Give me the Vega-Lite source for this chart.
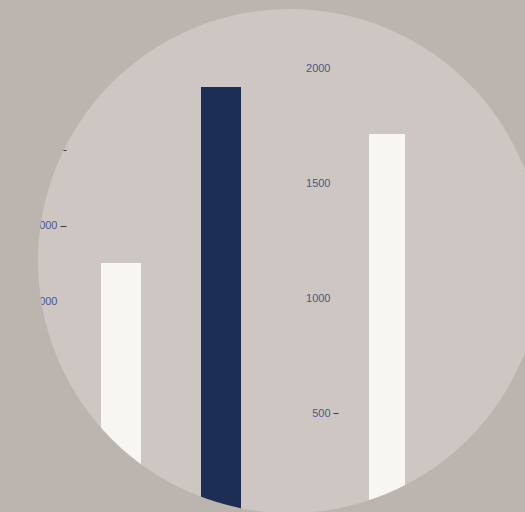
{
  "$schema": "https://vega.github.io/schema/vega-lite/v6.json",
  "width": 448,
  "height": 502,
  "autosize": {"type": "none"},
  "padding": {"left": 66, "top": 10, "right": 11, "bottom": 0},
  "background": "#cdc6c3",
  "config": {
    "view": {"stroke": null},
    "axis": {
      "labelFont": "Liberation Sans",
      "labelFontSize": 11,
      "labelColor": "#4b5886",
      "domain": false,
      "grid": false,
      "tickColor": "#3a3a3a",
      "title": null,
      "format": "d"
    },
    "axisLeft": {"labelColor": "#4b5886"},
    "axisY": {"labelColor": "#4b5886"}
  },
  "datasets": {
    "leftBars": [
      {"item": "A", "value": 3510, "tone": "light"},
      {"item": "B", "value": 5830, "tone": "dark"}
    ],
    "rightBars": [
      {"item": "C", "value": 1715, "tone": "light"}
    ],
    "ring": [{"part": "outside"}]
  },
  "layer": [
    {
      "data": {"name": "leftBars"},
      "mark": {"type": "bar", "clip": true},
      "encoding": {
        "x": {
          "field": "item",
          "type": "nominal",
          "axis": null,
          "scale": {"range": [35, 175], "paddingInner": 0.6, "paddingOuter": 0}
        },
        "y": {
          "field": "value",
          "type": "quantitative",
          "scale": {"domain": [224, 6847], "zero": false, "nice": false},
          "axis": {
            "orient": "left",
            "values": [1000, 2000, 3000, 4000, 5000, 6000],
            "format": "d",
            "labelColor": "#4b5886",
            "tickSize": 6,
            "labelPadding": 3,
            "tickOpacity": {"condition": {"test": "datum.value >= 4000", "value": 1}, "value": 0}
          }
        },
        "color": {
          "field": "tone",
          "type": "nominal",
          "scale": {"domain": ["light", "dark"], "range": ["#f8f6f3", "#1c2e55"]},
          "legend": null
        }
      }
    },
    {
      "data": {"name": "rightBars"},
      "mark": {"type": "bar", "clip": true},
      "encoding": {
        "x": {
          "field": "item",
          "type": "nominal",
          "axis": null,
          "scale": {"range": [303, 339], "paddingInner": 0, "paddingOuter": 0}
        },
        "y": {
          "field": "value",
          "type": "quantitative",
          "scale": {"domain": [71.7, 2254], "zero": false, "nice": false},
          "axis": {
            "orient": "left",
            "offset": -272,
            "values": [500, 1000, 1500, 2000],
            "format": "d",
            "labelColor": "#4b5886",
            "tickSize": 5,
            "labelPadding": 3,
            "tickOpacity": {"condition": {"test": "datum.value <= 500", "value": 1}, "value": 0}
          }
        },
        "color": {
          "field": "tone",
          "type": "nominal",
          "scale": {"domain": ["light", "dark"], "range": ["#f8f6f3", "#1c2e55"]},
          "legend": null
        }
      }
    },
    {
      "data": {"name": "ring"},
      "mark": {
        "type": "arc",
        "theta": 0,
        "theta2": 6.2832,
        "radius": 900,
        "radius2": 252,
        "fill": "#bbb4af"
      },
      "encoding": {}
    }
  ],
  "resolve": {"scale": {"x": "independent", "y": "independent"}}
}
